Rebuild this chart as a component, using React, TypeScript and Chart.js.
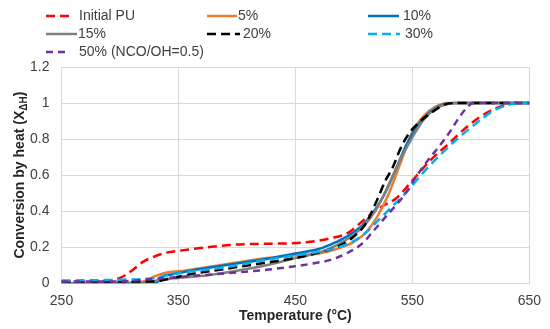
import React, { useEffect, useRef } from "react";
import { Chart, registerables } from "chart.js";

Chart.register(...registerables);

// ---- data ----
const seriesLabels = ["Initial PU", "5%", "10%", "15%", "20%", "30%", "50% (NCO/OH=0.5)"];

const tInitial = [250, 280, 300, 310, 320, 330, 340, 350, 375, 400, 430, 455, 480, 495, 510, 525, 536, 550, 565, 582, 597, 612, 625, 638, 650];
const xInitial = [0.01, 0.012, 0.03, 0.07, 0.12, 0.15, 0.17, 0.18, 0.2, 0.215, 0.22, 0.225, 0.25, 0.28, 0.36, 0.43, 0.47, 0.57, 0.68, 0.78, 0.87, 0.94, 0.98, 1.0, 1.0];

const t5 = [250, 300, 320, 330, 340, 355, 375, 400, 425, 450, 470, 485, 500, 510, 520, 530, 540, 550, 560, 570, 580, 590, 650];
const x5 = [0.0, 0.0, 0.01, 0.04, 0.06, 0.07, 0.09, 0.115, 0.14, 0.155, 0.165, 0.19, 0.23, 0.28, 0.37, 0.5, 0.67, 0.84, 0.93, 0.98, 1.0, 1.0, 1.0];

const t10 = [250, 330, 337, 345, 360, 380, 400, 425, 450, 470, 480, 490, 500, 507, 515, 525, 535, 545, 555, 565, 575, 585, 650];
const x10 = [0.0, 0.0, 0.04, 0.05, 0.07, 0.09, 0.11, 0.135, 0.165, 0.19, 0.215, 0.245, 0.285, 0.32, 0.38, 0.48, 0.62, 0.77, 0.88, 0.95, 0.99, 1.0, 1.0];

const t15 = [250, 320, 335, 350, 375, 400, 425, 450, 470, 485, 500, 510, 520, 530, 540, 550, 560, 570, 580, 590, 650];
const x15 = [0.0, 0.005, 0.02, 0.03, 0.045, 0.07, 0.1, 0.14, 0.17, 0.21, 0.27, 0.33, 0.42, 0.55, 0.69, 0.81, 0.91, 0.97, 0.995, 1.0, 1.0];

const t20 = [250, 330, 345, 360, 380, 400, 425, 450, 470, 485, 500, 510, 519, 527, 533, 540, 547, 557, 567, 577, 587, 650];
const x20 = [0.01, 0.01, 0.03, 0.05, 0.07, 0.09, 0.115, 0.14, 0.17, 0.2, 0.26, 0.33, 0.45, 0.57, 0.64, 0.75, 0.83, 0.9, 0.95, 0.99, 1.0, 1.0];

const t30 = [250, 300, 330, 340, 360, 380, 400, 425, 450, 470, 487, 500, 510, 521, 535, 547, 560, 575, 590, 607, 620, 632, 645, 650];
const x30 = [0.015, 0.02, 0.03, 0.045, 0.065, 0.08, 0.1, 0.13, 0.155, 0.175, 0.2, 0.235, 0.28, 0.35, 0.44, 0.52, 0.62, 0.72, 0.81, 0.9, 0.96, 0.99, 1.0, 1.0];

const t50 = [250, 300, 320, 340, 360, 380, 400, 425, 450, 465, 480, 495, 507, 518, 530, 542, 553, 563, 573, 582, 590, 596, 602, 650];
const x50 = [0.01, 0.01, 0.02, 0.03, 0.04, 0.05, 0.06, 0.075, 0.095, 0.11, 0.13, 0.17, 0.22, 0.3, 0.39, 0.48, 0.59, 0.68, 0.76, 0.84, 0.92, 0.97, 1.0, 1.0];

const xTicks = [250, 350, 450, 550, 650];
const yTicks = [0, 0.2, 0.4, 0.6, 0.8, 1, 1.2];

const xTitle = "Temperature (°C)";
const yTitleMain = "Conversion by heat (X";
const yTitleSub = "ΔH";
const yTitleEnd = ")";

// ---- styles ----
const colors = ["#ff0000", "#ed7d31", "#0070c0", "#808080", "#000000", "#00b0f0", "#7030a0"];
const dashes: number[][] = [[9, 5], [], [], [], [9, 5], [9, 5], [7, 5]];
const FONT = "'Liberation Sans', Arial, sans-serif";

const legendSlots = [
  { sx: 46, ex: 69, tx: 79, y: 16 },
  { sx: 207, ex: 237, tx: 238, y: 16 },
  { sx: 368, ex: 399, tx: 403, y: 16 },
  { sx: 46, ex: 77, tx: 78, y: 34 },
  { sx: 207, ex: 240, tx: 243, y: 34 },
  { sx: 368, ex: 400, tx: 405, y: 34 },
  { sx: 46, ex: 69, tx: 79, y: 52 },
];

const pts = (t: number[], v: number[]) => t.map((x, i) => ({ x, y: v[i] }));

const allT = [tInitial, t5, t10, t15, t20, t30, t50];
const allX = [xInitial, x5, x10, x15, x20, x30, x50];

const decorPlugin = {
  id: "decor",
  afterDraw(chart: any) {
    const ctx = chart.ctx as CanvasRenderingContext2D;
    const area = chart.chartArea;
    // legend
    ctx.save();
    chart.data.datasets.forEach((ds: any, i: number) => {
      const s = legendSlots[i];
      ctx.beginPath();
      ctx.strokeStyle = ds.borderColor;
      ctx.lineWidth = 2.5;
      ctx.setLineDash(ds.borderDash || []);
      ctx.moveTo(s.sx, s.y);
      ctx.lineTo(s.ex, s.y);
      ctx.stroke();
      ctx.setLineDash([]);
      ctx.fillStyle = "#404040";
      ctx.font = `14px ${FONT}`;
      ctx.textBaseline = "middle";
      ctx.textAlign = "left";
      ctx.fillText(ds.label, s.tx, s.y);
    });
    ctx.restore();

    // x title
    ctx.save();
    ctx.fillStyle = "#262626";
    ctx.font = `bold 14px ${FONT}`;
    ctx.textAlign = "center";
    ctx.textBaseline = "middle";
    ctx.fillText(xTitle, (area.left + area.right) / 2, 316);
    ctx.restore();

    // y title with subscript
    ctx.save();
    ctx.fillStyle = "#262626";
    ctx.translate(20, (area.top + area.bottom) / 2);
    ctx.rotate(-Math.PI / 2);
    ctx.textBaseline = "middle";
    ctx.textAlign = "left";
    const mainFont = `bold 14px ${FONT}`;
    const subFont = `bold 10px ${FONT}`;
    ctx.font = mainFont;
    const w1 = ctx.measureText(yTitleMain).width;
    const w3 = ctx.measureText(yTitleEnd).width;
    ctx.font = subFont;
    const w2 = ctx.measureText(yTitleSub).width;
    const total = w1 + w2 + w3;
    let x = -total / 2;
    ctx.font = mainFont;
    ctx.fillText(yTitleMain, x, 0);
    x += w1;
    ctx.font = subFont;
    ctx.fillText(yTitleSub, x, 4);
    x += w2;
    ctx.font = mainFont;
    ctx.fillText(yTitleEnd, x, 0);
    ctx.restore();
  },
};

export default function App() {
  const ref = useRef<HTMLCanvasElement | null>(null);
  useEffect(() => {
    if (!ref.current) return;
    const n = seriesLabels.length;
    const chart = new Chart(ref.current, {
      type: "scatter",
      data: {
        datasets: seriesLabels.map((label, i) => ({
          label,
          data: pts(allT[i], allX[i]),
          showLine: true,
          borderColor: colors[i],
          backgroundColor: colors[i],
          borderDash: dashes[i],
          borderWidth: 2.5,
          pointRadius: 0,
          pointHoverRadius: 0,
          cubicInterpolationMode: "monotone",
          tension: 0.4,
          order: n - i,
        })),
      },
      options: {
        animation: false,
        responsive: false,
        events: [],
        layout: { padding: { left: 0, right: 19, top: 67, bottom: 0 } },
        plugins: { legend: { display: false }, tooltip: { enabled: false }, title: { display: false } },
        scales: {
          x: {
            type: "linear",
            min: 250,
            max: 650,
            afterBuildTicks: (scale: any) => {
              scale.ticks = xTicks.map((v) => ({ value: v }));
            },
            afterFit: (scale: any) => {
              scale.height = 45.7;
            },
            grid: { color: "#d9d9d9", lineWidth: 1, drawTicks: false },
            border: { color: "#d9d9d9" },
            ticks: { color: "#404040", font: { family: FONT, size: 14 }, padding: 9, maxRotation: 0 },
          },
          y: {
            type: "linear",
            min: 0,
            max: 1.2,
            afterBuildTicks: (scale: any) => {
              scale.ticks = yTicks.map((v) => ({ value: v }));
            },
            afterFit: (scale: any) => {
              scale.width = 61.5;
            },
            grid: { color: "#d9d9d9", lineWidth: 1, drawTicks: false },
            border: { color: "#d9d9d9" },
            ticks: {
              color: "#404040",
              font: { family: FONT, size: 14 },
              padding: 12,
              callback: (v: any) => String(Math.round(Number(v) * 10) / 10),
            },
          },
        },
      },
      plugins: [decorPlugin],
    } as any);
    return () => chart.destroy();
  }, []);
  return (
    <div style={{ position: "fixed", left: 0, top: 0, width: 550, height: 329, background: "#fff" }}>
      <canvas ref={ref} width={550} height={329} style={{ width: 550, height: 329 }} />
    </div>
  );
}
